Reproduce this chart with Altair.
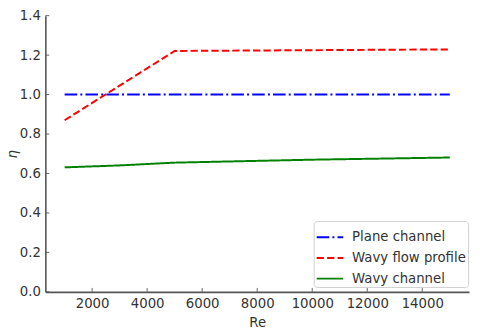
import altair as alt
import pandas as pd

series_names = ["Plane channel", "Wavy flow profile", "Wavy channel"]
series_colors = ["#0000ff", "#ff0000", "#008000"]

re_plane = [1000, 5000, 10000, 15000]
eta_plane = [1.0, 1.0, 1.0, 1.0]
re_profile = [1000, 5000, 10000, 15000]
eta_profile = [0.87, 1.221, 1.225, 1.229]
re_wavy = [1000, 3000, 5000, 10000, 15000]
eta_wavy = [0.631, 0.641, 0.655, 0.670, 0.681]

x_ticks = [2000, 4000, 6000, 8000, 10000, 12000, 14000]
y_ticks = [0.0, 0.2, 0.4, 0.6, 0.8, 1.0, 1.2, 1.4]

rows = []
for name, xs, ys in [
    (series_names[0], re_plane, eta_plane),
    (series_names[1], re_profile, eta_profile),
    (series_names[2], re_wavy, eta_wavy),
]:
    for i, (a, b) in enumerate(zip(xs, ys)):
        rows.append({"series": name, "Re": a, "eta": b, "idx": i})
df = pd.DataFrame(rows)

W, H = 431, 281
axis_grey = "#555555"
text_grey = "#333333"

x_scale = alt.Scale(domain=[300, 15700], nice=False, zero=False)
y_scale = alt.Scale(domain=[0, 1.4], nice=False, zero=False)

lines = alt.Chart(df).mark_line(strokeWidth=2).encode(
    x=alt.X("Re:Q", scale=x_scale, title="Re",
            axis=alt.Axis(values=x_ticks, format="d", titlePadding=6)),
    y=alt.Y("eta:Q", scale=y_scale, title="η",
            axis=alt.Axis(values=y_ticks, format=".1f", titlePadding=0,
                          titleFontStyle="italic")),
    color=alt.Color("series:N", scale=alt.Scale(domain=series_names, range=series_colors),
                    sort=series_names, title=None,
                    legend=alt.Legend(orient="none", legendX=273, legendY=209,
                                      symbolType="stroke", symbolSize=729,
                                      symbolStrokeWidth=2)),
    strokeDash=alt.StrokeDash("series:N",
                              scale=alt.Scale(domain=series_names,
                                              range=[[12.8, 3.2, 2, 3.2], [7.4, 3.2], [1, 0]]),
                              sort=series_names, title=None),
    order="idx:Q",
)

xt = alt.Chart(pd.DataFrame({"Re": x_ticks})).mark_rule(
    color=axis_grey, strokeWidth=0.9).encode(
    x=alt.X("Re:Q", scale=x_scale, title="Re"),
    y=alt.value(H), y2=alt.value(H - 4),
)
yt = alt.Chart(pd.DataFrame({"eta": y_ticks})).mark_rule(
    color=axis_grey, strokeWidth=0.9).encode(
    y=alt.Y("eta:Q", scale=y_scale, title="η"),
    x=alt.value(0), x2=alt.value(4),
)

chart = alt.layer(lines, xt, yt).properties(
    width=W, height=H,
    autosize=alt.AutoSizeParams(type="none"),
    padding={"left": 38, "top": 5, "right": 3, "bottom": 36},
).configure_view(stroke=None).configure_axis(
    domainColor=axis_grey, domainWidth=1.6, ticks=False, grid=False,
    labelFont="DejaVu Sans", labelFontSize=13.5, labelColor=text_grey,
    labelPadding=5, labelFlush=False, labelOverlap=False,
    titleFont="DejaVu Sans", titleFontSize=13.5, titleFontWeight="normal",
    titleColor=text_grey,
).configure_legend(
    labelFont="DejaVu Sans", labelFontSize=13.5, labelColor=text_grey,
    strokeColor="#d0d0d0", fillColor="white", cornerRadius=3, padding=2,
    rowPadding=-2.5, labelOffset=8,
)

chart.save("out.html", embed_options={"renderer": "svg", "actions": False})
